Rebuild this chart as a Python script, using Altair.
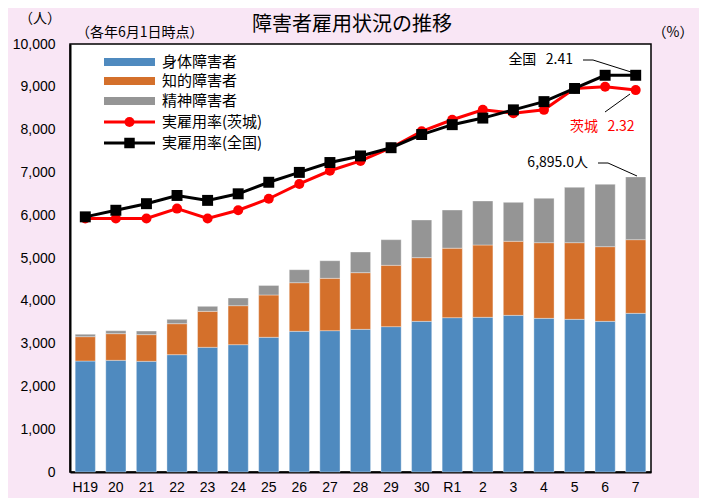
import altair as alt
import pandas as pd

years = ["H19", "20", "21", "22", "23", "24", "25", "26", "27", "28", "29", "30",
         "R1", "2", "3", "4", "5", "6", "7"]
physical = [2593, 2609, 2586, 2741, 2913, 2975, 3147, 3287, 3302, 3333, 3396, 3520,
            3606, 3614, 3660, 3590, 3567, 3520, 3707]
intellectual = [569, 623, 623, 724, 841, 911, 989, 1136, 1223, 1324, 1433, 1488,
                1624, 1690, 1730, 1768, 1791, 1745, 1721]
mental = [55, 69, 85, 102, 117, 179, 224, 304, 412, 483, 599, 880,
          891, 1028, 911, 1036, 1293, 1457, 1467]
rate_ibaraki = [1.54, 1.54, 1.54, 1.60, 1.54, 1.59, 1.66, 1.75, 1.83, 1.89, 1.97, 2.07,
                2.14, 2.20, 2.18, 2.20, 2.33, 2.34, 2.32]
rate_national = [1.55, 1.59, 1.63, 1.68, 1.65, 1.69, 1.76, 1.82, 1.88, 1.92, 1.97, 2.05,
                 2.11, 2.15, 2.20, 2.25, 2.33, 2.41, 2.41]
series_names = ["身体障害者", "知的障害者", "精神障害者"]
series_colors = ["#4f8abf", "#d4702b", "#959595"]
line_names = ["実雇用率(茨城)", "実雇用率(全国)"]
left_ticks = list(range(0, 10001, 1000))
right_ticks = [0, 0.5, 1.0, 1.5, 2.0, 2.5]

rows = []
for i, yv in enumerate(years):
    for k, (name, vals) in enumerate(zip(series_names, [physical, intellectual, mental])):
        rows.append({"year": yv, "series": name, "value": vals[i], "order": k})
bars_df = pd.DataFrame(rows)
rate_df = pd.DataFrame({"year": years, "ibaraki": rate_ibaraki, "national": rate_national})
one = pd.DataFrame({"a": [0]})

JP = "Noto Sans CJK JP"
NUM = "Liberation Sans"

x_enc = alt.X("year:N", sort=years, title=None,
              scale=alt.Scale(paddingInner=0.34, paddingOuter=0.17),
              axis=alt.Axis(labelAngle=0, labelFont=NUM, labelFontSize=14, labelColor="#000",
                            ticks=False, domainColor="#000", domainWidth=2, labelPadding=8))

bars = alt.Chart(bars_df).mark_bar(stroke="#ffffff", strokeWidth=0.5, strokeOpacity=0.7).encode(
    x=x_enc,
    y=alt.Y("value:Q", stack="zero", scale=alt.Scale(domain=[0, 10000], nice=False),
            axis=alt.Axis(values=left_ticks, format=",d", title=None, orient="left", ticks=False,
                          grid=False, domainColor="#000", domainWidth=2, labelFont=NUM,
                          labelFontSize=14, labelColor="#000", labelPadding=15)),
    color=alt.Color("series:N", scale=alt.Scale(domain=series_names, range=series_colors), legend=None),
    order=alt.Order("order:Q", sort="ascending"),
)

yr = alt.Scale(domain=[0, 2.6], nice=False)
red = alt.Chart(rate_df).mark_line(
    color="#ff0000", strokeWidth=3,
    point=alt.OverlayMarkDef(shape="circle", size=100, filled=True, color="#ff0000")
).encode(
    x=x_enc,
    y=alt.Y("ibaraki:Q", scale=yr,
            axis=alt.Axis(values=right_ticks, format=".2f", orient="right", title=None, ticks=False,
                          grid=False, domainColor="#888888", domainWidth=2, labelFont=NUM,
                          labelFontSize=14, labelColor="#000", labelPadding=12)),
)
black = alt.Chart(rate_df).mark_line(
    color="#000000", strokeWidth=3,
    point=alt.OverlayMarkDef(shape="square", size=120, filled=True, color="#000000")
).encode(
    x=x_enc,
    y=alt.Y("national:Q", scale=yr, axis=None),
)
lines = alt.layer(red, black)

# legend (inside plot, top-left)
legend_layers = []
leg_y = [18, 37, 57, 78, 99]
for i, (name, col) in enumerate(zip(series_names, series_colors)):
    legend_layers.append(alt.Chart(one).mark_rule(color=col, strokeWidth=8, strokeCap="butt").encode(
        x=alt.value(34), x2=alt.value(85), y=alt.value(leg_y[i])))
    legend_layers.append(alt.Chart(one).mark_text(align="left", baseline="middle", font=JP,
                                                  fontSize=15, color="#000").encode(
        x=alt.value(92), y=alt.value(leg_y[i]), text=alt.value(name)))
for j, (name, col, shp, sz) in enumerate(zip(line_names, ["#ff0000", "#000000"],
                                              ["circle", "square"], [100, 110])):
    yy = leg_y[3 + j]
    legend_layers.append(alt.Chart(one).mark_rule(color=col, strokeWidth=3).encode(
        x=alt.value(34), x2=alt.value(85), y=alt.value(yy)))
    legend_layers.append(alt.Chart(one).mark_point(shape=shp, size=sz, filled=True, color=col,
                                                   opacity=1).encode(
        x=alt.value(59.5), y=alt.value(yy)))
    legend_layers.append(alt.Chart(one).mark_text(align="left", baseline="middle", font=JP,
                                                  fontSize=15, color="#000").encode(
        x=alt.value(92), y=alt.value(yy), text=alt.value(name)))

# annotations
ann = []
ann.append(alt.Chart(one).mark_text(align="right", baseline="middle", font=JP, fontSize=14,
                                    color="#000").encode(
    x=alt.value(503), y=alt.value(16), text=alt.value("全国\u00a0\u00a0\u00a02.41")))
ann.append(alt.Chart(one).mark_rule(color="#000", strokeWidth=1).encode(
    x=alt.value(513), x2=alt.value(523), y=alt.value(16), y2=alt.value(16)))
ann.append(alt.Chart(one).mark_rule(color="#000", strokeWidth=1).encode(
    x=alt.value(523), x2=alt.value(561), y=alt.value(16), y2=alt.value(28)))
ann.append(alt.Chart(one).mark_text(align="left", baseline="middle", font=JP, fontSize=14,
                                    color="#ff0000").encode(
    x=alt.value(500), y=alt.value(83), text=alt.value("茨城\u00a0\u00a0\u00a02.32")))
ann.append(alt.Chart(one).mark_rule(color="#000", strokeWidth=1).encode(
    x=alt.value(535), x2=alt.value(560), y=alt.value(68), y2=alt.value(50)))
ann.append(alt.Chart(one).mark_text(align="right", baseline="middle", font=JP, fontSize=14,
                                    color="#000").encode(
    x=alt.value(518), y=alt.value(119), text=alt.value("6,895.0人")))
ann.append(alt.Chart(one).mark_rule(color="#000", strokeWidth=1).encode(
    x=alt.value(528), x2=alt.value(538), y=alt.value(119), y2=alt.value(119)))
ann.append(alt.Chart(one).mark_rule(color="#000", strokeWidth=1).encode(
    x=alt.value(538), x2=alt.value(567), y=alt.value(119), y2=alt.value(132)))

# outer texts
ann.append(alt.Chart(one).mark_text(align="center", baseline="middle", font=JP, fontSize=20,
                                    color="#000").encode(
    x=alt.value(282), y=alt.value(-19), text=alt.value("障害者雇用状況の推移")))
ann.append(alt.Chart(one).mark_text(align="center", baseline="middle", font=JP, fontSize=14,
                                    color="#000").encode(
    x=alt.value(-30), y=alt.value(-25), text=alt.value("（人）")))
ann.append(alt.Chart(one).mark_text(align="left", baseline="middle", font=JP, fontSize=14,
                                    color="#000").encode(
    x=alt.value(6), y=alt.value(-11), text=alt.value("（各年6月1日時点）")))
ann.append(alt.Chart(one).mark_text(align="center", baseline="middle", font=JP, fontSize=14,
                                    color="#000").encode(
    x=alt.value(603), y=alt.value(-11), text=alt.value("（%）")))

chart = alt.layer(bars, lines, *legend_layers, *ann).resolve_scale(y="independent").properties(
    width=581, height=428, autosize="none",
    padding={"left": 62, "top": 36, "right": 48, "bottom": 26},
    background="#f9e6f5",
).configure_view(fill="white", stroke="#000000", strokeWidth=1.5)

chart.save("out.html", embed_options={"renderer": "svg", "actions": False})
